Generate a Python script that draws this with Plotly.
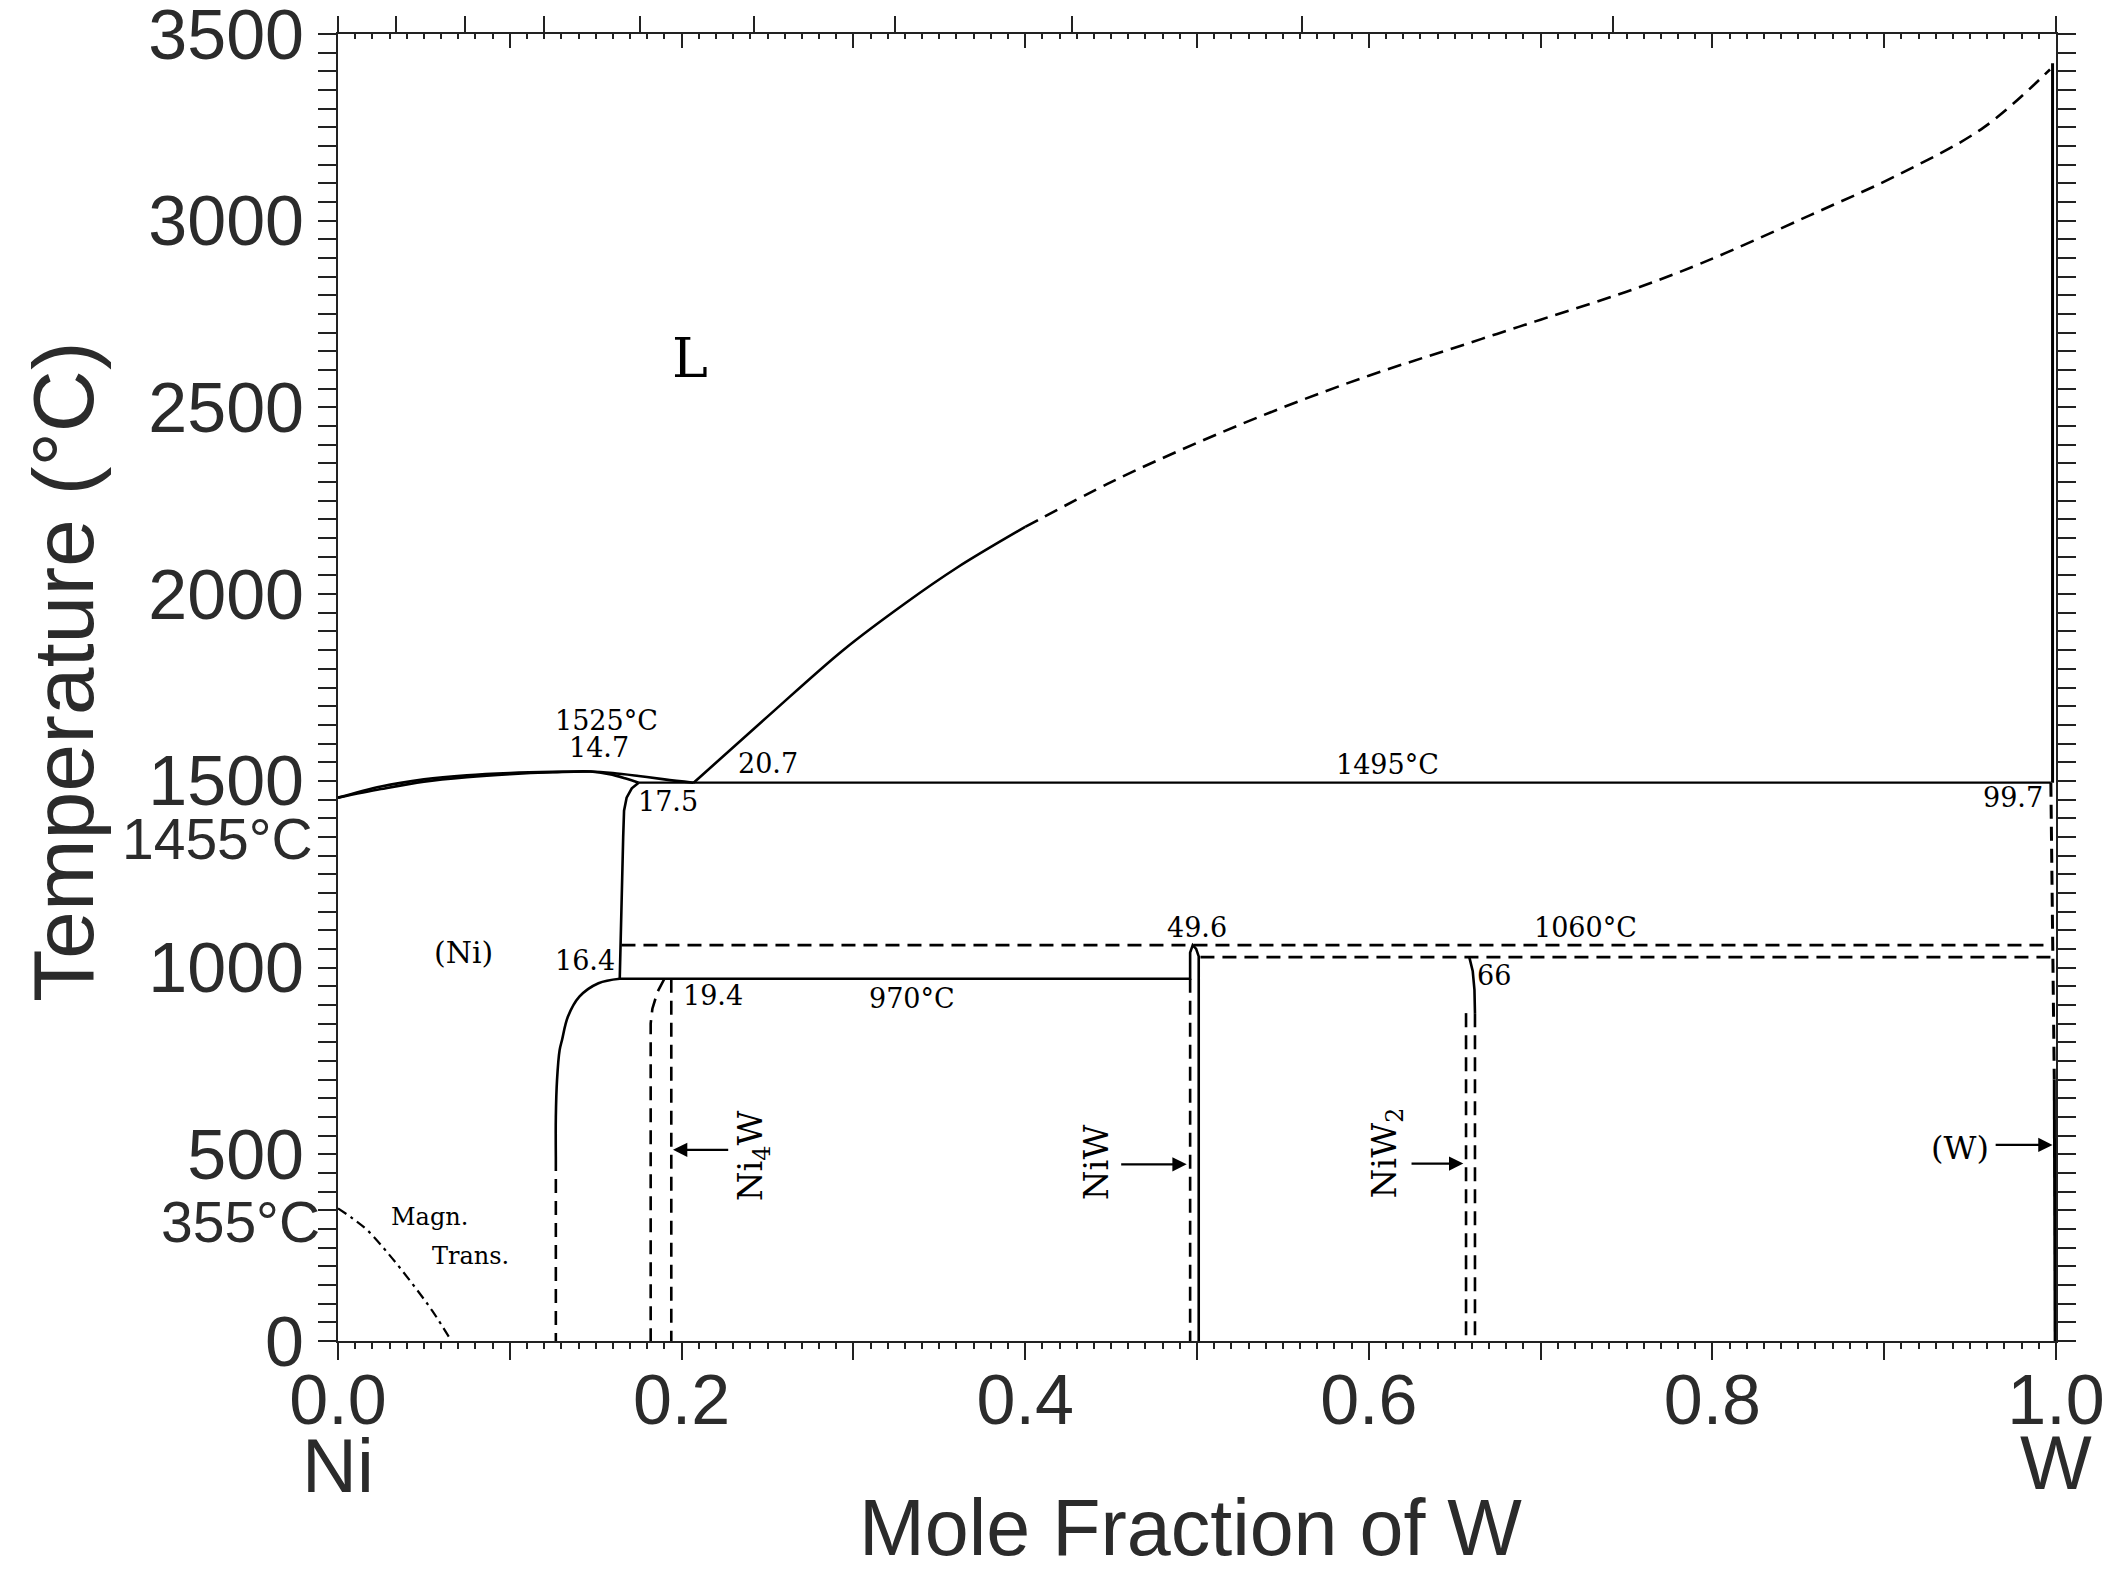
import plotly.graph_objects as go

# ---------------- axis ticks ----------------
X_TICK_VALS = [0.0, 0.1, 0.2, 0.3, 0.4, 0.5, 0.6, 0.7, 0.8, 0.9, 1.0]
X_TICK_TEXT = ["0.0", "", "0.2", "", "0.4", "", "0.6", "", "0.8", "", "1.0"]
Y_TICK_VALS = [0, 500, 1000, 1500, 2000, 2500, 3000, 3500]
Y_TICK_TEXT = ["0", "500", "1000", "1500", "2000", "2500", "3000", "3500"]
# top scale: weight-percent ticks (0, 10, ..., 90, 100 wt.% W) placed at mole fraction
WT_TICK_POS = [0.0, 0.034, 0.074, 0.120, 0.176, 0.242, 0.324, 0.427, 0.561, 0.742, 1.0]

# ---------------- phase boundaries (mole fraction W, temperature in °C) ----------------
# (Ni) liquidus and solidus lens with the 1525 °C maximum
NI_LIQ_X = [0.0, 0.025, 0.05, 0.075, 0.10, 0.125, 0.147, 0.160, 0.175, 0.190, 0.207]
NI_LIQ_T = [1455, 1485, 1504, 1515, 1521, 1524, 1525, 1521, 1513, 1504, 1495]
NI_SOL_X = [0.0, 0.025, 0.05, 0.075, 0.10, 0.125, 0.147, 0.158, 0.167, 0.175]
NI_SOL_T = [1455, 1478, 1498, 1510, 1518, 1523, 1525, 1518, 1507, 1495]

# liquidus from the peritectic point up to the melting point of W
LIQ_SOLID_X = [0.207, 0.25, 0.294, 0.33, 0.36, 0.40]
LIQ_SOLID_T = [1495, 1672, 1850, 1975, 2070, 2180]
LIQ_DASH_X = [0.40, 0.45, 0.50, 0.55, 0.60, 0.65, 0.70, 0.75, 0.793, 0.857, 0.909, 0.958, 0.9965]
LIQ_DASH_T = [2180, 2300, 2405, 2500, 2585, 2660, 2735, 2810, 2885, 3015, 3125, 3250, 3405]

# peritectic isotherm 1495 °C (17.5 – 99.7 at.% W)
PERI_X = [0.175, 0.997]
PERI_T = [1495, 1495]

# (Ni) solvus above 970 °C, the 970 °C isotherm and the NiW field
NI_SOLVUS_X = [0.175, 0.171, 0.168, 0.1665, 0.166, 0.165, 0.164, 0.496, 0.496, 0.4975, 0.4995, 0.501, 0.501]
NI_SOLVUS_T = [1495, 1480, 1455, 1420, 1350, 1150, 970, 970, 1040, 1060, 1050, 1030, 0]
# (Ni) solvus below 970 °C
NI_LOW_X = [0.164, 0.1516, 0.1405, 0.1338, 0.1304, 0.129, 0.1275, 0.1268, 0.1268]
NI_LOW_T = [970, 958, 922, 868, 806, 779, 700, 600, 493]
NI_LOW_DASH_X = [0.1268, 0.1268]
NI_LOW_DASH_T = [493, 0]

# Ni4W
NI4W_L_X = [0.190, 0.186, 0.183, 0.182, 0.182]
NI4W_L_T = [970, 935, 890, 850, 0]
NI4W_R_X = [0.194, 0.194]
NI4W_R_T = [970, 0]

# NiW left boundary below 970 °C
NIW_L_X = [0.496, 0.496]
NIW_L_T = [970, 0]

# NiW2
NIW2_TOP_X = [0.6585, 0.6605, 0.6615, 0.6618]
NIW2_TOP_T = [1028, 990, 940, 878]
NIW2_L_X = [0.6566, 0.6566]
NIW2_L_T = [878, 0]
NIW2_R_X = [0.6618, 0.6618]
NIW2_R_T = [878, 0]

# dashed isotherms 1060 °C and ~1028 °C
ISO_1060_X = [0.165, 0.997]
ISO_1060_T = [1060, 1060]
ISO_1028_X = [0.502, 0.997]
ISO_1028_T = [1028, 1028]

# (W) solidus and solvus
W_SOL_X = [0.998, 0.998]
W_SOL_T = [3422, 1495]
W_SOLV_X = [0.997, 0.998, 0.999]
W_SOLV_T = [1495, 1060, 700]
W_LOW_X = [0.999, 0.9995]
W_LOW_T = [700, 0]

# magnetic transition of (Ni)
MAG_X = [0.0, 0.008, 0.017, 0.03, 0.043, 0.055, 0.066]
MAG_T = [355, 330, 297, 230, 155, 80, 0]

DASH = "14px,8px"
LW = 2.6

fig = go.Figure()


def add_line(x, y, dash="solid", width=LW, shape="linear"):
    fig.add_trace(go.Scatter(
        x=x, y=y, mode="lines",
        line=dict(color="black", width=width, dash=dash, shape=shape),
        showlegend=False, hoverinfo="skip"))


add_line(NI_LIQ_X, NI_LIQ_T, shape="spline")
add_line(NI_SOL_X, NI_SOL_T, shape="spline")
add_line(LIQ_SOLID_X, LIQ_SOLID_T, shape="spline")
add_line(LIQ_DASH_X, LIQ_DASH_T, dash=DASH, shape="spline")
add_line(PERI_X, PERI_T, width=2.2)
add_line(NI_SOLVUS_X, NI_SOLVUS_T)
add_line(NI_LOW_X, NI_LOW_T, shape="spline")
add_line(NI_LOW_DASH_X, NI_LOW_DASH_T, dash=DASH)
add_line(NI4W_L_X, NI4W_L_T, dash=DASH)
add_line(NI4W_R_X, NI4W_R_T, dash=DASH)
add_line(NIW_L_X, NIW_L_T, dash=DASH)
add_line(NIW2_TOP_X, NIW2_TOP_T)
add_line(NIW2_L_X, NIW2_L_T, dash=DASH)
add_line(NIW2_R_X, NIW2_R_T, dash=DASH)
add_line(ISO_1060_X, ISO_1060_T, dash=DASH)
add_line(ISO_1028_X, ISO_1028_T, dash=DASH)
add_line(W_SOL_X, W_SOL_T, width=3)
add_line(W_SOLV_X, W_SOLV_T, dash=DASH, width=3)
add_line(W_LOW_X, W_LOW_T, width=3)
add_line(MAG_X, MAG_T, dash="10px,5px,3px,5px", width=2.2, shape="spline")

# empty traces so the two top scales are rendered
fig.add_trace(go.Scatter(x=[], y=[], xaxis="x2", yaxis="y", showlegend=False, hoverinfo="skip"))
fig.add_trace(go.Scatter(x=[], y=[], xaxis="x3", yaxis="y", showlegend=False, hoverinfo="skip"))

SERIF = "DejaVu Serif"
SANS = "Liberation Sans"
AX_COLOR = "#2b2b2b"

# ---------------- in-diagram labels ----------------
LABELS = [
    ("L", 0.205, 2632, 54),
    ("1525°C", 0.156, 1662, 27),
    ("14.7", 0.152, 1590, 27),
    ("20.7", 0.250, 1547, 27),
    ("1495°C", 0.611, 1545, 27),
    ("17.5", 0.192, 1446, 27),
    ("99.7", 0.975, 1455, 27),
    ("(Ni)", 0.073, 1040, 30),
    ("16.4", 0.144, 1020, 27),
    ("49.6", 0.500, 1107, 27),
    ("1060°C", 0.726, 1107, 27),
    ("66", 0.673, 978, 27),
    ("19.4", 0.218, 925, 27),
    ("970°C", 0.334, 918, 27),
    ("Magn.", 0.053, 332, 24),
    ("Trans.", 0.077, 228, 24),
    ("(W)", 0.944, 517, 32),
]
annotations = []
for text, x, y, size in LABELS:
    annotations.append(dict(x=x, y=y, xref="x", yref="y", text=text, showarrow=False,
                            font=dict(family=SERIF, size=size, color="black"),
                            xanchor="center", yanchor="middle"))

# rotated compound names
PHASES = [
    ("Ni<sub>4</sub>W", 0.2415, 497),
    ("NiW", 0.441, 478),
    ("NiW<sub>2</sub>", 0.610, 505),
]
for text, x, y in PHASES:
    annotations.append(dict(x=x, y=y, xref="x", yref="y", text=text, showarrow=False,
                            textangle=-90, font=dict(family=SERIF, size=34, color="black"),
                            xanchor="center", yanchor="middle"))

# arrows pointing to the compound lines: (tip x, tail x, temperature)
ARROWS = [
    (0.195, 0.228, 512),
    (0.494, 0.455, 473),
    (0.655, 0.624, 475),
    (0.998, 0.964, 525),
]
for tip, tail, t in ARROWS:
    annotations.append(dict(x=tip, y=t, ax=tail, ay=t, xref="x", yref="y", axref="x", ayref="y",
                            text="", showarrow=True, arrowhead=2, arrowsize=1.3,
                            arrowwidth=2.2, arrowcolor="black", standoff=0, startstandoff=0))

# axis titles and end-member labels
annotations += [
    dict(x=-0.160, y=0.512, xref="paper", yref="paper", text="Temperature (°C)", textangle=-90,
         showarrow=False, font=dict(family=SANS, size=86, color=AX_COLOR),
         xanchor="center", yanchor="middle"),
    dict(x=0.496, y=-0.143, xref="paper", yref="paper", text="Mole Fraction of W",
         showarrow=False, font=dict(family=SANS, size=79, color=AX_COLOR),
         xanchor="center", yanchor="middle"),
    dict(x=0.0, y=-0.0956, xref="x", yref="paper", text="Ni", showarrow=False,
         font=dict(family=SANS, size=76, color=AX_COLOR), xanchor="center", yanchor="middle"),
    dict(x=1.0, y=-0.0926, xref="x", yref="paper", text="W", showarrow=False,
         font=dict(family=SANS, size=76, color=AX_COLOR), xanchor="center", yanchor="middle"),
    dict(x=-0.0134, y=1345, xref="paper", yref="y", text="1455°C", showarrow=False,
         font=dict(family=SANS, size=57, color=AX_COLOR), xanchor="right", yanchor="middle"),
    dict(x=-0.0095, y=318, xref="paper", yref="y", text="355°C", showarrow=False,
         font=dict(family=SANS, size=57, color=AX_COLOR), xanchor="right", yanchor="middle"),
]

fig.update_layout(
    width=2118, height=1571,
    margin=dict(l=338, r=62, t=34, b=230, autoexpand=False),
    paper_bgcolor="white", plot_bgcolor="white",
    showlegend=False,
    annotations=annotations,
    xaxis=dict(
        range=[0, 1], tickmode="array", tickvals=X_TICK_VALS, ticktext=X_TICK_TEXT,
        ticks="outside", ticklen=17, tickwidth=2, tickcolor="#222",
        showline=True, linewidth=2, linecolor="#222", mirror=True, automargin=False,
        showgrid=False, zeroline=False, ticklabelstandoff=-20, ticklabeloverflow="allow",
        tickfont=dict(family=SANS, size=70, color=AX_COLOR),
        minor=dict(dtick=0.01, tick0=0, ticks="outside", ticklen=6, tickwidth=1.5,
                   tickcolor="#222", showgrid=False),
    ),
    xaxis2=dict(
        overlaying="x", side="top", range=[0, 1], tickmode="array", tickvals=X_TICK_VALS,
        ticks="inside", ticklen=14, tickwidth=2, tickcolor="#222", automargin=False,
        showticklabels=False, showline=False, showgrid=False, zeroline=False,
        minor=dict(dtick=0.01, tick0=0, ticks="inside", ticklen=5, tickwidth=1.5,
                   tickcolor="#222", showgrid=False),
    ),
    xaxis3=dict(
        overlaying="x", side="top", range=[0, 1], tickmode="array", tickvals=WT_TICK_POS,
        ticks="outside", ticklen=17, tickwidth=2, tickcolor="#222", automargin=False,
        showticklabels=False, showline=False, showgrid=False, zeroline=False,
    ),
    yaxis=dict(
        range=[0, 3500], tickmode="array", tickvals=Y_TICK_VALS, ticktext=Y_TICK_TEXT,
        ticks="outside", ticklen=18, tickwidth=2, tickcolor="#222",
        showline=True, linewidth=2, linecolor="#222", mirror="allticks", automargin=False,
        showgrid=False, zeroline=False, ticklabeloverflow="allow",
        tickfont=dict(family=SANS, size=70, color=AX_COLOR),
        minor=dict(dtick=50, tick0=0, ticks="outside", ticklen=7, tickwidth=1.5,
                   tickcolor="#222", showgrid=False),
    ),
)

fig.write_html("out.html")
